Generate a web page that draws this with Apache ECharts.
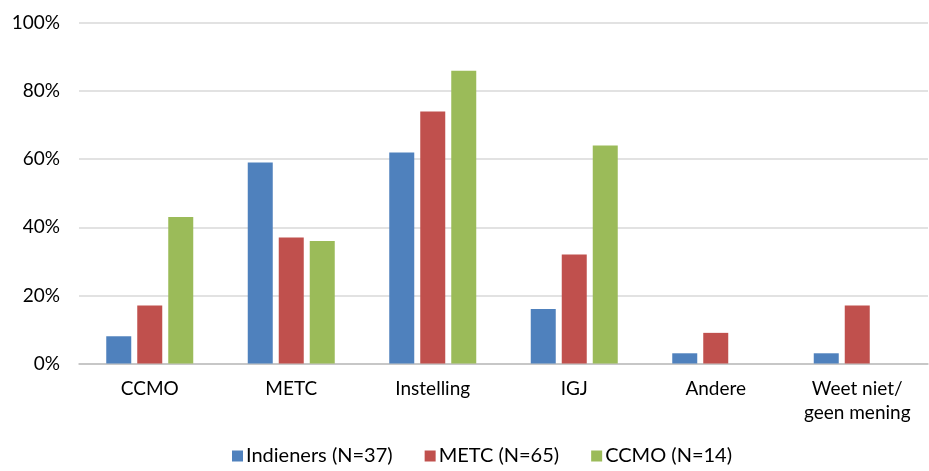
<!DOCTYPE html>
<html style="height: 100%">
<head>
    <meta charset="utf-8">
</head>
<body style="height: 100%; margin: 0; background: #fff">
    <div id="container" style="width: 929px; height: 471px"></div>
    <script src="https://cdn.jsdelivr.net/npm/echarts@6/dist/echarts.min.js"></script>
    <script type="text/javascript">
        var categories = ['CCMO', 'METC', 'Instelling', 'IGJ', 'Andere', 'Weet niet/\ngeen mening'];
        var indieners = [8, 59, 62, 16, 3, 3];
        var metc = [17, 37, 74, 32, 9, 17];
        var ccmo = [43, 36, 86, 64, null, null];
        var seriesNames = ['Indieners (N=37)', 'METC (N=65)', 'CCMO (N=14)'];
        var colors = ['#4F81BD', '#C0504D', '#9BBB59'];

        var font = 'Lato, "Open Sans", sans-serif';
        var myChart = echarts.init(document.getElementById('container'));

        function bar(name, data, color) {
            return {
                name: name,
                type: 'bar',
                data: data,
                barWidth: 25,
                barGap: '24%',
                itemStyle: { color: color },
                emphasis: { disabled: true }
            };
        }

        var option = {
            animation: false,
            color: colors,
            grid: { left: 79, right: 1, top: 23, bottom: 107.5 },
            legend: {
                top: 446,
                left: 232,
                padding: 0,
                itemWidth: 11,
                itemHeight: 11,
                itemGap: 32,
                icon: 'rect',
                textStyle: { fontFamily: font, fontSize: 20, color: '#000', padding: [0, 0, 0, -2] },
                data: seriesNames
            },
            xAxis: {
                type: 'category',
                data: categories,
                axisLine: { lineStyle: { color: '#BFBFBF', width: 1.5 } },
                axisTick: { show: false },
                axisLabel: {
                    fontFamily: font, fontSize: 19, color: '#000',
                    margin: 13, lineHeight: 24, interval: 0
                }
            },
            yAxis: {
                type: 'value',
                min: 0,
                max: 100,
                interval: 20,
                axisLabel: {
                    fontFamily: font, fontSize: 19, color: '#000',
                    margin: 19, formatter: '{value}%'
                },
                splitLine: { lineStyle: { color: '#D9D9D9', width: 1.5 } }
            },
            series: [
                bar(seriesNames[0], indieners, colors[0]),
                bar(seriesNames[1], metc, colors[1]),
                bar(seriesNames[2], ccmo, colors[2])
            ]
        };

        myChart.setOption(option);
    </script>
</body>
</html>
